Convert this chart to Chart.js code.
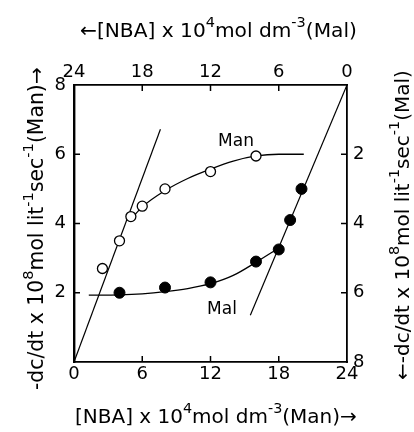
<!DOCTYPE html>
<html>
<head>
<meta charset="utf-8">
<script src="https://cdn.jsdelivr.net/npm/chart.js@4/dist/chart.umd.min.js"></script>
<style>
  html, body { margin: 0; padding: 0; background: #fff; }
  #wrap { width: 414px; height: 432px; }
</style>
</head>
<body>
<div id="wrap"><canvas id="c" width="414" height="432"></canvas></div>
<script>
// ---- Man series: bottom axis [NBA] / left axis rate ----
const manConc = [2.5, 4, 5, 6, 8, 12, 16];
const manRate = [2.7, 3.5, 4.2, 4.5, 5.0, 5.5, 5.95];
// smooth fitted curve through the Man data
const manFitConc = [5.0, 6, 8, 10, 12, 14, 16, 18, 20.2];
const manFitRate = [4.12, 4.48, 4.95, 5.3, 5.57, 5.8, 5.95, 6.0, 6.0];
// initial-slope line for Man
const manSlopeConc = [0, 7.6];
const manSlopeRate = [0, 6.72];

// ---- Mal series: top axis [NBA] (reversed) / right axis rate (reversed) ----
const malConc = [20, 16, 12, 8, 6, 5, 4];
const malRate = [6.0, 5.85, 5.7, 5.1, 4.75, 3.9, 3.0];
const malFitConc = [22.7, 20, 18, 16, 14, 12, 10, 8, 6.1];
const malFitRate = [6.07, 6.06, 6.03, 5.97, 5.88, 5.74, 5.5, 5.12, 4.73];
const malSlopeConc = [0, 8.5];
const malSlopeRate = [0, 6.65];

// ---- tick values ----
const concTicks = [0, 6, 12, 18, 24];
const rateTicks = [0, 2, 4, 6, 8];

const FONT = '"DejaVu Sans", sans-serif';
const pts = (xs, ys) => xs.map((v, i) => ({ x: v, y: ys[i] }));

function setTicks(values) {
  return scale => { scale.ticks = values.map(v => ({ value: v })); };
}

// Rich text: array of segments, superscripts drawn smaller and raised
function richWidth(ctx, segs, size) {
  let w = 0;
  for (const s of segs) {
    const fs = s.sup ? size * 0.72 : size;
    ctx.font = fs + 'px ' + FONT;
    w += ctx.measureText(s.t).width;
  }
  return w;
}
function drawRich(ctx, segs, x, y, angle, size, length) {
  const base = richWidth(ctx, segs, size);
  const k = length ? length / base : 1;
  const fsz = size * k;
  ctx.save();
  ctx.translate(x, y);
  ctx.rotate(angle);
  ctx.fillStyle = '#000';
  ctx.textBaseline = 'alphabetic';
  ctx.textAlign = 'left';
  let cx = 0;
  for (const s of segs) {
    const fs = s.sup ? fsz * 0.72 : fsz;
    ctx.font = fs + 'px ' + FONT;
    ctx.fillText(s.t, cx, s.sup ? -fsz * 0.5 : 0);
    cx += ctx.measureText(s.t).width;
  }
  ctx.restore();
}

const topTitle = [{ t: '\u2190[NBA] x 10' }, { t: '4', sup: true }, { t: 'mol dm' }, { t: '-3', sup: true }, { t: '(Mal)' }];
const bottomTitle = [{ t: '[NBA] x 10' }, { t: '4', sup: true }, { t: 'mol dm' }, { t: '-3', sup: true }, { t: '(Man)\u2192' }];
const leftTitle = [{ t: '-dc/dt x 10' }, { t: '8', sup: true }, { t: 'mol lit' }, { t: '-1', sup: true }, { t: 'sec' }, { t: '-1', sup: true }, { t: '(Man)\u2192' }];
const rightTitle = [{ t: '\u2190-dc/dt x 10' }, { t: '8', sup: true }, { t: 'mol lit' }, { t: '-1', sup: true }, { t: 'sec' }, { t: '-1', sup: true }, { t: '(Mal)' }];

const extras = {
  id: 'extras',
  afterDraw(chart) {
    const ctx = chart.ctx;
    const { x, x2, y, y2 } = chart.scales;
    const L = 6;
    ctx.save();
    ctx.strokeStyle = '#000';
    ctx.lineWidth = 1.5;
    ctx.beginPath();
    // inward tick marks
    for (const v of concTicks.slice(1, -1)) {
      const px = x.getPixelForValue(v);
      ctx.moveTo(px, x.top); ctx.lineTo(px, x.top - L);
      const qx = x2.getPixelForValue(v);
      ctx.moveTo(qx, x2.bottom); ctx.lineTo(qx, x2.bottom + L);
    }
    for (const v of rateTicks.slice(1, -1)) {
      const py = y.getPixelForValue(v);
      ctx.moveTo(y.right, py); ctx.lineTo(y.right + L, py);
      const qy = y2.getPixelForValue(v);
      ctx.moveTo(y2.left, qy); ctx.lineTo(y2.left - L, qy);
    }
    ctx.stroke();
    ctx.restore();

    // axis titles
    drawRich(ctx, topTitle, 80, 37, 0, 17, 277);
    drawRich(ctx, bottomTitle, 75, 423, 0, 17, 282);
    drawRich(ctx, leftTitle, 43, 390, -Math.PI / 2, 17, 323);
    drawRich(ctx, rightTitle, 409, 380, -Math.PI / 2, 17, 310);

    // curve labels
    ctx.save();
    ctx.fillStyle = '#000';
    ctx.font = '17px ' + FONT;
    ctx.textAlign = 'center';
    ctx.textBaseline = 'middle';
    ctx.fillText('Man', 236, 142);
    ctx.fillText('Mal', 222, 310);
    ctx.restore();
  }
};

const tickFont = { family: FONT, size: 18 };

new Chart(document.getElementById('c'), {
  type: 'scatter',
  data: {
    datasets: [
      { data: pts(manConc, manRate), xAxisID: 'x', yAxisID: 'y', showLine: false,
        pointRadius: 5, pointBorderWidth: 1.3, pointBackgroundColor: '#fff', pointBorderColor: '#000' },
      { data: pts(malConc, malRate), xAxisID: 'x2', yAxisID: 'y2', showLine: false,
        pointRadius: 5.5, pointBorderWidth: 1, pointBackgroundColor: '#000', pointBorderColor: '#000' },
      { data: pts(manFitConc, manFitRate), xAxisID: 'x', yAxisID: 'y', showLine: true, pointRadius: 0,
        borderColor: '#000', borderWidth: 1.3, cubicInterpolationMode: 'monotone' },
      { data: pts(malFitConc, malFitRate), xAxisID: 'x2', yAxisID: 'y2', showLine: true, pointRadius: 0,
        borderColor: '#000', borderWidth: 1.3, cubicInterpolationMode: 'monotone' },
      { data: pts(manSlopeConc, manSlopeRate), xAxisID: 'x', yAxisID: 'y', showLine: true, pointRadius: 0,
        borderColor: '#000', borderWidth: 1.2 },
      { data: pts(malSlopeConc, malSlopeRate), xAxisID: 'x2', yAxisID: 'y2', showLine: true, pointRadius: 0,
        borderColor: '#000', borderWidth: 1.2 }
    ]
  },
  options: {
    responsive: false,
    animation: false,
    devicePixelRatio: 1,
    layout: { padding: 0 },
    plugins: { legend: { display: false }, tooltip: { enabled: false } },
    scales: {
      x: {
        type: 'linear', position: 'bottom', min: 0, max: 24,
        afterBuildTicks: setTicks(concTicks),
        afterFit: s => { s.height = 70; },
        grid: { display: false, drawTicks: false },
        border: { display: true, color: '#000', width: 1.8 },
        ticks: { color: '#000', font: tickFont, padding: 2, maxRotation: 0 }
      },
      x2: {
        type: 'linear', position: 'top', min: 0, max: 24, reverse: true,
        afterBuildTicks: setTicks(concTicks),
        afterFit: s => { s.height = 85; },
        grid: { display: false, drawTicks: false },
        border: { display: true, color: '#000', width: 1.8 },
        ticks: { color: '#000', font: tickFont, padding: 2, maxRotation: 0 }
      },
      y: {
        type: 'linear', position: 'left', min: 0, max: 8,
        afterBuildTicks: setTicks(rateTicks),
        afterFit: s => { s.width = 74; },
        grid: { display: false, drawTicks: false },
        border: { display: true, color: '#000', width: 2.4 },
        ticks: { color: '#000', font: tickFont, padding: 8, callback: v => (v === 0 ? '' : v) }
      },
      y2: {
        type: 'linear', position: 'right', min: 0, max: 8, reverse: true,
        afterBuildTicks: setTicks(rateTicks),
        afterFit: s => { s.width = 67; },
        grid: { display: false, drawTicks: false },
        border: { display: true, color: '#000', width: 1.8 },
        ticks: { color: '#000', font: tickFont, padding: 6, callback: v => (v === 0 ? '' : v) }
      }
    }
  },
  plugins: [extras]
});
</script>
</body>
</html>
